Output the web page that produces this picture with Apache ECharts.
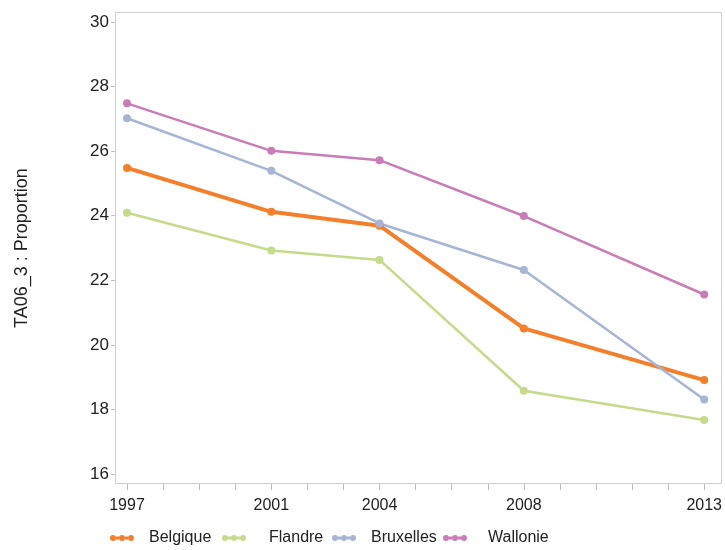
<!DOCTYPE html>
<html><head><meta charset="utf-8">
<script src="https://cdn.jsdelivr.net/npm/echarts@6/dist/echarts.min.js"></script>
<style>html,body{margin:0;padding:0;background:#fff}#c{width:725px;height:550px}</style>
</head><body><div id="c"></div>
<script>
const years = [1997, 2001, 2004, 2008, 2013];
const xLabels = [1997, 2001, 2004, 2008, 2013];
const belgique = [25.48, 24.12, 23.69, 20.51, 18.91];
const flandre = [24.09, 22.92, 22.63, 18.58, 17.67];
const bruxelles = [27.02, 25.39, 23.76, 22.32, 18.31];
const wallonie = [27.48, 26.01, 25.72, 23.99, 21.56];
const seriesNames = ['Belgique', 'Flandre', 'Bruxelles', 'Wallonie'];
const seriesData = [belgique, flandre, bruxelles, wallonie];
const colors = ['#f47f2b', '#c3db8b', '#a6b5d6', '#c97cb6'];
const widths = [4, 2.5, 2.5, 2.5];
const font = 'Liberation Sans, Arial, sans-serif';

const legendIcon = 'path://M0,5 A3,3 0 1,1 6,5 A3,3 0 1,1 0,5 Z M6,3.6 L9,3.6 L9,6.4 L6,6.4 Z M9,5 A3,3 0 1,1 15,5 A3,3 0 1,1 9,5 Z M15,3.6 L18,3.6 L18,6.4 L15,6.4 Z M18,5 A3,3 0 1,1 24,5 A3,3 0 1,1 18,5 Z';

const chart = echarts.init(document.getElementById('c'));
const legendLefts = [110, 222, 332, 443];
const legendGaps = [15, 23, 15, 21];
chart.setOption({
  animation: false,
  graphic: [{type:'rect', shape:{x:115.5, y:12.5, width:606, height:471}, style:{fill:'none', stroke:'#cfcfcf', lineWidth:1}, silent:true, z:-1}],
  grid: {left:127, right:18, top:22, bottom:76},
  xAxis: {
    type:'value', min:1997, max:2013, interval:1, offset:10,
    axisLine:{show:false},
    axisTick:{show:true, length:6, lineStyle:{color:'#bfbfbf'}},
    splitLine:{show:false},
    axisLabel:{
      color:'#222', fontSize:16, fontFamily:font, margin:14,
      formatter: v => xLabels.includes(v) ? String(v) : ''
    }
  },
  yAxis: {
    type:'value', min:16, max:30, interval:2, offset:12,
    name:'TA06_3 : Proportion', nameLocation:'middle', nameGap:84,
    nameTextStyle:{color:'#222', fontSize:18, fontFamily:font},
    axisLine:{show:false},
    axisTick:{show:true, length:4, lineStyle:{color:'#bfbfbf'}},
    splitLine:{show:false},
    axisLabel:{color:'#222', fontSize:17, fontFamily:font, margin:6}
  },
  legend: seriesNames.map((n, i) => ({
    data:[{name:n, icon:legendIcon}], left:legendLefts[i], top:530, padding:0,
    itemWidth:24, itemHeight:10, itemGap:0,
    textStyle:{color:'#222', fontSize:16, fontFamily:font, padding:[0,0,0,legendGaps[i]-5]}
  })),
  series: seriesNames.map((n, i) => ({
    name:n, type:'line',
    data: years.map((y, j) => [y, seriesData[i][j]]),
    symbol:'circle', symbolSize:8,
    itemStyle:{color:colors[i]},
    lineStyle:{color:colors[i], width:widths[i]}
  }))
});
</script></body></html>
